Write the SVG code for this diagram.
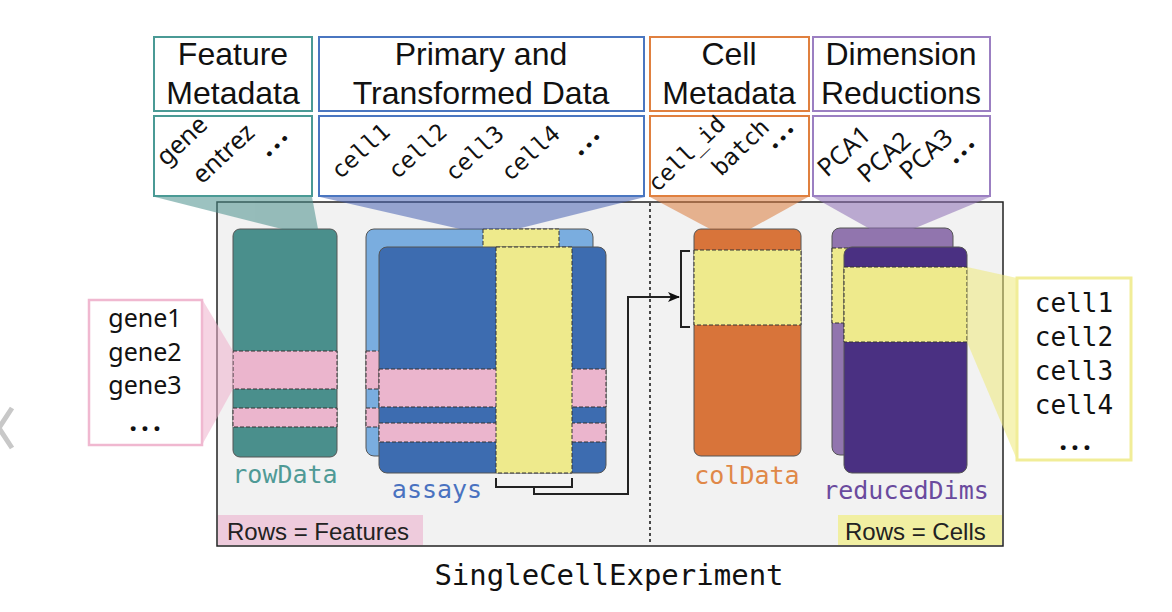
<svg xmlns="http://www.w3.org/2000/svg" width="1172" height="612" viewBox="0 0 1172 612">
<defs>
<style>
.hdr{font-family:"Liberation Sans",Arial,sans-serif;font-size:32px;fill:#111;text-anchor:middle}
.rot{font-family:"Noto Sans","Liberation Sans",sans-serif;font-size:25px;fill:#111}
.rotm{font-family:"DejaVu Sans Mono","Liberation Mono",monospace;font-size:23px;fill:#111}
.dots{font-family:"Noto Sans","Liberation Sans",sans-serif;font-size:28px;font-weight:bold;fill:#111}
.mono{font-family:"DejaVu Sans Mono","Liberation Mono",monospace;font-size:25px;text-anchor:middle}
.col{stroke:#555;stroke-width:1}
.dash{stroke:#333;stroke-width:1;stroke-dasharray:4 2}
.lbl{font-family:"Liberation Sans",Arial,sans-serif;font-size:24px;fill:#222}
.conn{fill:none;stroke:#222;stroke-width:2}
</style>
<marker id="arr" viewBox="0 0 12 10" refX="11" refY="5" markerWidth="12" markerHeight="10" markerUnits="userSpaceOnUse" orient="auto">
<path d="M0,0 L12,5 L0,10 L3,5 z" fill="#111"/>
</marker>
</defs>
<rect width="1172" height="612" fill="#fff"/>
<polyline points="12,408 -1,428 12,448" fill="none" stroke="#c8c8c8" stroke-width="5"/>

<g id="sce-box">
<rect x="217" y="202" width="786" height="344" fill="#f2f2f2" stroke="#222" stroke-width="1.5"/>
<line x1="650" y1="203" x2="650" y2="545" stroke="#111" stroke-width="1.5" stroke-dasharray="3 3"/>
<rect x="218" y="515" width="205" height="30" fill="#eecbdc"/>
<text class="lbl" x="227" y="540">Rows = Features</text>
<rect x="838" y="515" width="164" height="30" fill="#f1efa2"/>
<text class="lbl" x="845" y="540">Rows = Cells</text>
</g>
<text id="title" x="609" y="585" font-family="DejaVu Sans Mono,Liberation Mono,monospace" font-size="29" text-anchor="middle" fill="#111">SingleCellExperiment</text>

<g id="rowData">
<rect class="col" x="233" y="229" width="104" height="228" rx="7" fill="#4a8f8c"/>
<rect class="dash" x="233" y="351" width="104" height="38" fill="#ebb5cd"/>
<rect class="dash" x="233" y="408" width="104" height="19" fill="#ebb5cd"/>
<text class="mono" x="285" y="483" fill="#4f9a96">rowData</text>
</g>

<g id="assays">
<rect class="col" x="366" y="229" width="227" height="227" rx="8" fill="#7aaddf"/>
<rect class="dash" x="366" y="351" width="20" height="38" fill="#ebb5cd"/>
<rect class="dash" x="366" y="408" width="20" height="19" fill="#ebb5cd"/>
<rect class="dash" x="483" y="229" width="76" height="25" fill="#eeea8c"/>
<rect class="col" x="379" y="247" width="227" height="226" rx="8" fill="#3d6cb0"/>
<rect class="dash" x="379" y="369" width="227" height="38" fill="#ebb5cd"/>
<rect class="dash" x="379" y="423" width="227" height="19" fill="#ebb5cd"/>
<rect class="dash" x="496" y="247" width="76" height="226" fill="#eeea8c"/>
<text class="mono" x="437" y="498" fill="#4a72c0">assays</text>
</g>

<g id="colData">
<rect class="col" x="694" y="229" width="107" height="227" rx="7" fill="#d8743a"/>
<rect class="dash" x="694" y="250" width="107" height="75" fill="#eeea8c"/>
<text class="mono" x="747" y="484" fill="#e08848">colData</text>
</g>

<g id="reducedDims">
<rect class="col" x="832" y="228" width="121" height="227" rx="8" fill="#9175ae"/>
<rect class="dash" x="832" y="248" width="20" height="75" fill="#eeea8c"/>
<rect class="col" x="844" y="247" width="123" height="226" rx="8" fill="#4a3082"/>
<rect class="dash" x="844" y="267" width="123" height="75" fill="#eeea8c"/>
<text class="mono" x="906" y="499" fill="#6a4a9e">reducedDims</text>
</g>

<g id="connectors">
<path class="conn" d="M496,478 V487 H572 V478"/>
<path class="conn" d="M534,487 V494 H628 V297 H679" marker-end="url(#arr)"/>
<path class="conn" d="M690,251 H681 V327 H690"/>
</g>

<g id="callouts" opacity="0.55">
<polygon points="155,197 312,197 318,229 282,229" fill="#4a8f8c"/>
<polygon points="320,197 645,197 517,229 460,229" fill="#4a64b4"/>
<polygon points="650,197 808,197 750,229 710,229" fill="#dc7c3e"/>
<polygon points="813,197 990,197 913,229 870,229" fill="#8e6fb5"/>
<polygon points="202,299 233,351 233,389 202,445" fill="#eeb0cc"/>
<polygon points="967,267 1017,278 1017,460 967,342" fill="#efe97a"/>
</g>

<g id="feature-metadata">
<rect x="154" y="37" width="158" height="74" fill="#fff" stroke="#4a9a95" stroke-width="2"/>
<text class="hdr" x="233" y="65">Feature</text>
<text class="hdr" x="233" y="104">Metadata</text>
<rect x="154" y="116" width="158" height="80" fill="#fff" stroke="#4a9a95" stroke-width="2"/>
<text class="rot" transform="translate(166,167) rotate(-43)">gene</text>
<text class="rot" transform="translate(202,185) rotate(-43)">entrez</text>
<text class="dots" transform="translate(268,158) rotate(-45)" letter-spacing="3">...</text>
</g>

<g id="primary-data">
<rect x="319" y="37" width="325" height="74" fill="#fff" stroke="#4a76c0" stroke-width="2"/>
<text class="hdr" x="481" y="65">Primary and</text>
<text class="hdr" x="481" y="104">Transformed Data</text>
<rect x="319" y="116" width="325" height="80" fill="#fff" stroke="#4a76c0" stroke-width="2"/>
<text class="rotm" transform="translate(340,180) rotate(-42)">cell1</text>
<text class="rotm" transform="translate(397,180) rotate(-42)">cell2</text>
<text class="rotm" transform="translate(454,182) rotate(-42)">cell3</text>
<text class="rotm" transform="translate(510,182) rotate(-42)">cell4</text>
<text class="dots" transform="translate(580,157) rotate(-45)" letter-spacing="3">...</text>
</g>

<g id="cell-metadata">
<rect x="650" y="37" width="159" height="74" fill="#fff" stroke="#e0803f" stroke-width="2"/>
<text class="hdr" x="729" y="65">Cell</text>
<text class="hdr" x="729" y="104">Metadata</text>
<rect x="650" y="116" width="159" height="80" fill="#fff" stroke="#e0803f" stroke-width="2"/>
<text class="rotm" transform="translate(657,193) rotate(-44)">cell_id</text>
<text class="rotm" transform="translate(721,177) rotate(-44)">batch</text>
<text class="dots" transform="translate(774,150) rotate(-45)" letter-spacing="3">...</text>
</g>

<g id="dimension-reductions">
<rect x="813" y="37" width="177" height="74" fill="#fff" stroke="#9b7fc2" stroke-width="2"/>
<text class="hdr" x="901" y="65">Dimension</text>
<text class="hdr" x="901" y="104">Reductions</text>
<rect x="813" y="116" width="177" height="80" fill="#fff" stroke="#9b7fc2" stroke-width="2"/>
<text class="rot" transform="translate(827,178) rotate(-42)">PCA1</text>
<text class="rot" transform="translate(867,184) rotate(-42)">PCA2</text>
<text class="rot" transform="translate(909,181) rotate(-42)">PCA3</text>
<text class="dots" transform="translate(955,165) rotate(-45)" letter-spacing="3">...</text>
</g>

<g id="gene-list">
<rect x="89" y="300" width="113" height="145" fill="#fff" stroke="#f0b8d0" stroke-width="2.5"/>
<g font-family="Noto Sans,Liberation Sans,sans-serif" font-size="25" fill="#111" text-anchor="middle">
<text x="145" y="327">gene1</text>
<text x="145" y="361">gene2</text>
<text x="145" y="394">gene3</text>
<text x="147" y="431" font-size="28" font-weight="bold" letter-spacing="4">...</text>
</g>
</g>

<g id="cell-list">
<rect x="1017" y="278" width="114" height="182" fill="#fff" stroke="#f1ed98" stroke-width="3"/>
<g font-family="DejaVu Sans Mono,Liberation Mono,monospace" font-size="26" fill="#111" text-anchor="middle">
<text x="1074" y="312">cell1</text>
<text x="1074" y="346">cell2</text>
<text x="1074" y="380">cell3</text>
<text x="1074" y="414">cell4</text>
<text x="1077" y="450" font-family="Noto Sans,sans-serif" font-size="28" font-weight="bold" letter-spacing="4">...</text>
</g>
</g>
</svg>
